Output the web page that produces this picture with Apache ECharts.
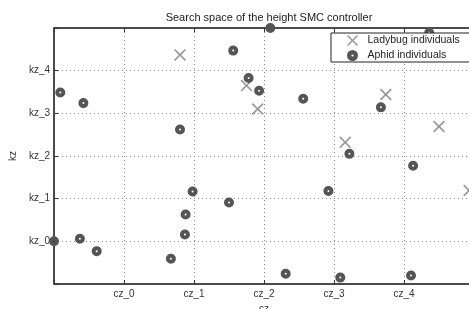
<!DOCTYPE html>
<html>
<head>
<meta charset="utf-8">
<script src="https://cdn.jsdelivr.net/npm/echarts@6/dist/echarts.min.js"></script>
<style>
  html, body { margin: 0; padding: 0; background: #fff; }
  #chart { width: 469px; height: 309px; }
</style>
</head>
<body>
<div id="chart"></div>
<script>
// tick labels
var czLabels = ['cz_0', 'cz_1', 'cz_2', 'cz_3', 'cz_4'];
var kzLabels = ['kz_0', 'kz_1', 'kz_2', 'kz_3', 'kz_4'];

// ladybug individuals (grey crosses)
var ladybugCz = [0.80, 1.75, 1.91, 3.74, 4.50, 3.16, 4.93];
var ladybugKz = [4.37, 3.65, 3.10, 3.44, 2.69, 2.32, 1.19];

// aphid individuals (dark dots)
var aphidCz = [-1.00, -0.63, -0.39, 0.67, 0.87, 0.88, 0.98, 1.50, 2.31, 3.09, 2.92, 4.10,
               4.13, 3.22, 3.67, 2.56, 1.93, 1.78, 1.56, 2.09, 4.36, 0.80, -0.91, -0.58];
var aphidKz = [0.00, 0.06, -0.23, -0.41, 0.16, 0.63, 1.17, 0.91, -0.76, -0.85, 1.18, -0.80,
               1.77, 2.05, 3.14, 3.34, 3.53, 3.83, 4.47, 5.00, 4.89, 2.62, 3.49, 3.24];

function pairs(xs, ys) {
  return xs.map(function (x, i) { return [x, ys[i]]; });
}

var crossPath = 'path://M0,1 L1,0 L5,4 L9,0 L10,1 L6,5 L10,9 L9,10 L5,6 L1,10 L0,9 L4,5 Z';
// filled dot with a small hole in the middle
var dotPath = 'path://M5,0 A5,5 0 1,1 5,10 A5,5 0 1,1 5,0 Z M5,4 A1,1 0 1,0 5,6 A1,1 0 1,0 5,4 Z';
var font = 'Liberation Sans, Arial, sans-serif';

var chart = echarts.init(document.getElementById('chart'));
var option = {
  animation: false,
  textStyle: { fontFamily: font },
  title: {
    text: 'Search space of the height SMC controller',
    left: 264,
    textAlign: 'center',
    top: 7,
    textStyle: { fontSize: 11, fontWeight: 'normal', color: '#222', fontFamily: font }
  },
  legend: {
    orient: 'vertical',
    left: 331,
    top: 33,
    padding: [2, 12, 1, 16],
    itemGap: 4,
    itemWidth: 20,
    itemHeight: 11,
    backgroundColor: '#fff',
    borderColor: '#222',
    borderWidth: 1,
    borderRadius: 0,
    textStyle: { fontSize: 10.5, color: '#222', fontFamily: font },
    data: ['Ladybug individuals', 'Aphid individuals']
  },
  grid: {
    left: 54,
    top: 28,
    width: 420,
    height: 256,
    outerBoundsMode: 'none',
    show: true,
    borderColor: '#333',
    borderWidth: 1
  },
  xAxis: [{
    type: 'value',
    min: -1,
    max: 5,
    interval: 1,
    name: 'cz',
    nameLocation: 'middle',
    nameGap: 19,
    nameTextStyle: { fontSize: 10, color: '#333' },
    axisLine: { show: true, onZero: false, lineStyle: { color: '#333', width: 1.5 } },
    axisTick: { show: true, inside: true, length: 4, lineStyle: { color: '#333' } },
    axisLabel: {
      fontSize: 10, color: '#333', margin: 5,
      formatter: function (v) { return czLabels[v] || ''; }
    },
    splitLine: { show: true, lineStyle: { color: '#888', type: [1, 3], width: 1 } }
  }, {
    type: 'value',
    position: 'top',
    min: -1,
    max: 5,
    interval: 1,
    axisLine: { show: true, onZero: false, lineStyle: { color: '#333', width: 1.5 } },
    axisTick: { show: true, inside: true, length: 4, lineStyle: { color: '#333' } },
    axisLabel: { show: false },
    splitLine: { show: false }
  }],
  yAxis: {
    type: 'value',
    min: -1,
    max: 5,
    interval: 1,
    name: 'kz',
    nameLocation: 'middle',
    nameGap: 34,
    nameRotate: 90,
    nameTextStyle: { fontSize: 10, color: '#333' },
    axisLine: { show: true, onZero: false, lineStyle: { color: '#333', width: 1.5 } },
    axisTick: { show: true, inside: true, length: 4, lineStyle: { color: '#333' } },
    axisLabel: {
      fontSize: 10, color: '#333', margin: 4,
      formatter: function (v) { return kzLabels[v] || ''; }
    },
    splitLine: { show: true, lineStyle: { color: '#888', type: [1, 3], width: 1 } }
  },
  series: [{
    name: 'Ladybug individuals',
    type: 'scatter',
    clip: false,
    symbol: crossPath,
    symbolSize: 12,
    itemStyle: { color: '#999', opacity: 1 },
    data: pairs(ladybugCz, ladybugKz)
  }, {
    name: 'Aphid individuals',
    type: 'scatter',
    clip: false,
    symbol: dotPath,
    symbolSize: 10,
    itemStyle: { color: '#555', opacity: 1 },
    data: pairs(aphidCz, aphidKz)
  }]
};
chart.setOption(option);
</script>
</body>
</html>
